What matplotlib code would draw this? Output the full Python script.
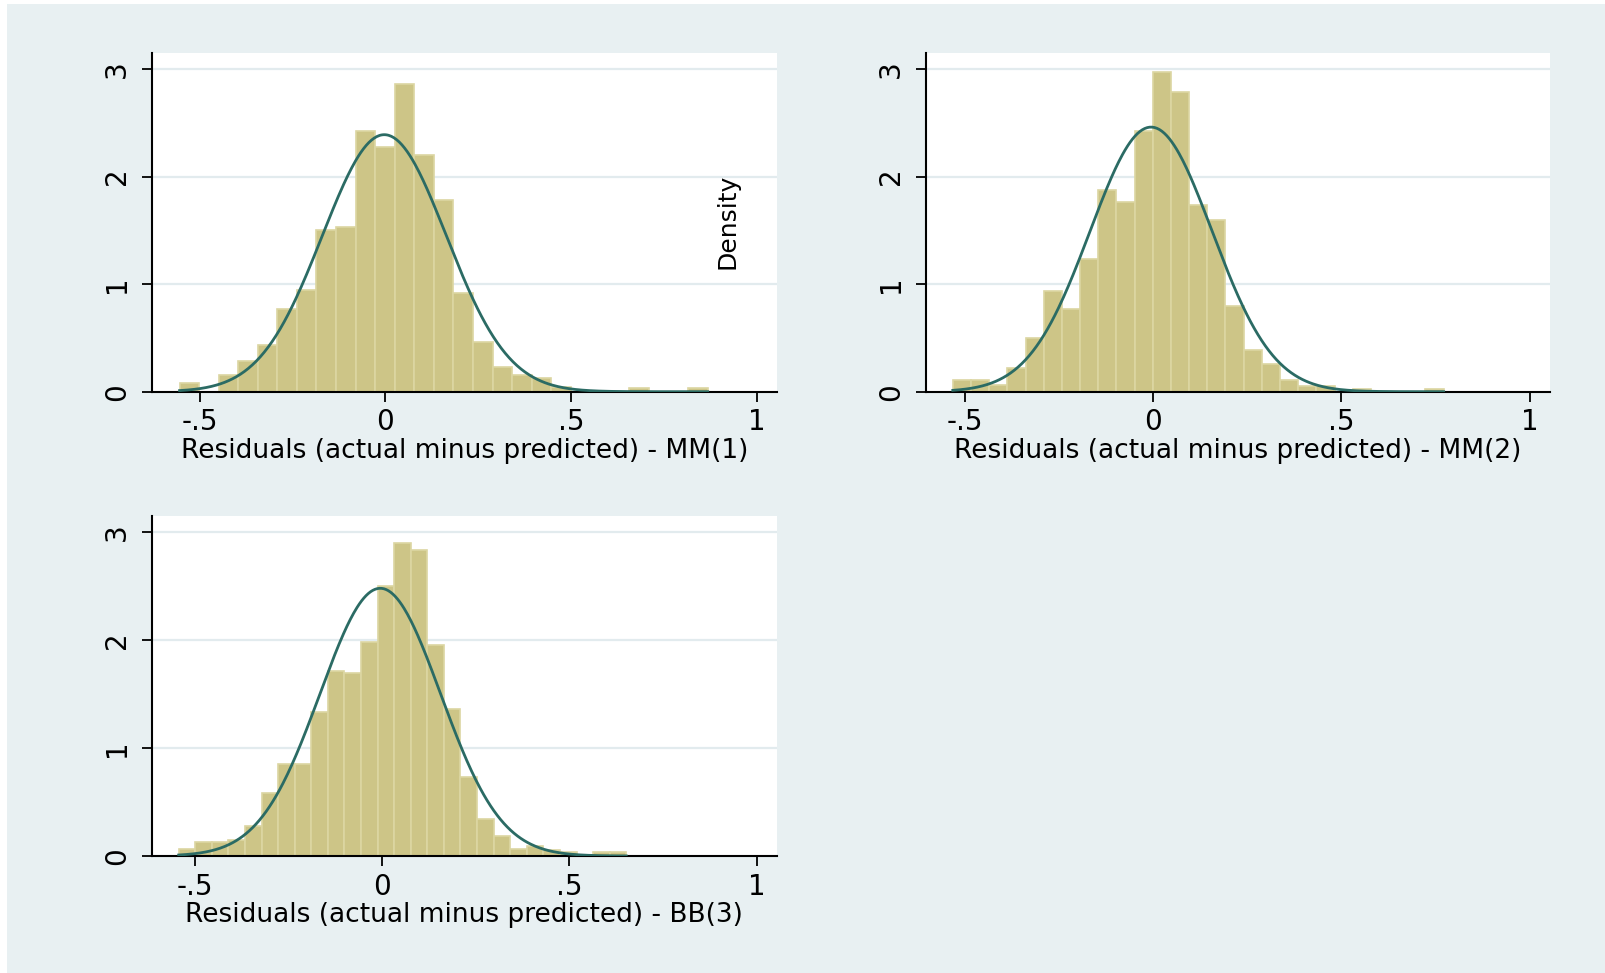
import numpy as np
import matplotlib
matplotlib.use('Agg')
import matplotlib.pyplot as plt
from matplotlib.patches import Rectangle

# --- data (density per bin) ---
# MM(1)
mm1_start = -0.554
mm1_width = 0.05264
mm1_density = [0.084, 0.0, 0.158, 0.285, 0.437, 0.766, 0.946, 1.502, 1.527, 2.426,
               2.271, 2.861, 2.197, 1.781, 0.915, 0.459, 0.233, 0.155, 0.124, 0.047,
               0.0, 0.0, 0.0, 0.03, 0.0, 0.0, 0.03]
mm1_mean, mm1_sd = -0.003, 0.167

# MM(2)
mm2_start = -0.533
mm2_width = 0.04832
mm2_density = [0.109, 0.109, 0.059, 0.223, 0.503, 0.937, 0.773, 1.238, 1.874, 1.762,
               2.426, 2.975, 2.786, 1.734, 1.598, 0.800, 0.388, 0.254, 0.109, 0.056,
               0.056, 0.0, 0.025, 0.0, 0.0, 0.0, 0.025]
mm2_mean, mm2_sd = -0.006, 0.1622

# BB(3)
bb3_start = -0.543
bb3_width = 0.04424
bb3_density = [0.065, 0.127, 0.127, 0.151, 0.275, 0.581, 0.853, 0.853, 1.332, 1.718,
               1.696, 1.986, 2.502, 2.898, 2.836, 1.959, 1.359, 0.735, 0.340, 0.185,
               0.062, 0.093, 0.056, 0.034, 0.0, 0.034, 0.034]
bb3_mean, bb3_sd = -0.005, 0.1608

titles = ['Residuals (actual minus predicted) - MM(1)',
          'Residuals (actual minus predicted) - MM(2)',
          'Residuals (actual minus predicted) - BB(3)']
xtick_vals = [-0.5, 0, 0.5, 1]
xtick_labels = ['-.5', '0', '.5', '1']
ytick_vals = [0, 1, 2, 3]
ytick_labels = ['0', '1', '2', '3']

BG = '#e8f0f2'
GRID = '#e2ebee'
BAR = '#cdc587'
BAR_EDGE = '#dcd6a2'
CURVE = '#2b6b64'

plt.rcParams['font.family'] = ['DejaVu Sans']

W, H = 1605, 973
fig = plt.figure(figsize=(W / 100, H / 100), dpi=100)
fig.patch.set_facecolor('white')
fig.add_artist(Rectangle((6.7 / W, 0), 1, 1 - 4 / H, transform=fig.transFigure,
                         facecolor=BG, edgecolor='none', zorder=-10))


def frac(left, top, right, bottom):
    return [left / W, 1 - bottom / H, (right - left) / W, (bottom - top) / H]


def panel(rect, start, width, dens, mu, sd, title, xlim):
    ax = fig.add_axes(rect)
    ax.set_facecolor('white')
    edges = start + width * np.arange(len(dens))
    ax.bar(edges, dens, width=width, align='edge', color=BAR,
           edgecolor=BAR_EDGE, linewidth=1.2, zorder=2)
    xs = np.linspace(edges[0], edges[-1] + width, 400)
    pdf = np.exp(-0.5 * ((xs - mu) / sd) ** 2) / (sd * np.sqrt(2 * np.pi))
    ax.plot(xs, pdf, color=CURVE, linewidth=2.0, zorder=3)

    ax.set_xlim(*xlim)
    ax.set_ylim(0, 3.151)
    ax.set_xticks(xtick_vals)
    ax.set_xticklabels(xtick_labels)
    ax.set_yticks(ytick_vals)
    ax.set_yticklabels(ytick_labels, rotation=90, va='center')
    for y in ytick_vals[1:]:
        ax.axhline(y, color=GRID, linewidth=1.6, zorder=1)

    for s in ['top', 'right']:
        ax.spines[s].set_visible(False)
    for s in ['left', 'bottom']:
        ax.spines[s].set_linewidth(1.5)
        ax.spines[s].set_color('black')
    ax.tick_params(axis='both', length=7, width=1.3, labelsize=20, direction='out')
    ax.tick_params(axis='x', pad=5)
    ax.tick_params(axis='y', pad=8)
    ax.set_xlabel(title, fontsize=19, labelpad=1)
    return ax


panel(frac(151.7, 52.7, 776.7, 391.7), mm1_start, mm1_width, mm1_density,
      mm1_mean, mm1_sd, titles[0], (-0.629, 1.053))
panel(frac(925.7, 52.7, 1549.5, 391.7), mm2_start, mm2_width, mm2_density,
      mm2_mean, mm2_sd, titles[1], (-0.605, 1.053))
panel(frac(151.7, 516, 776.7, 856), bb3_start, bb3_width, bb3_density,
      bb3_mean, bb3_sd, titles[2], (-0.615, 1.053))

fig.text(727 / W, 1 - 221 / H, 'Density', rotation=90, ha='center', va='center',
         fontsize=18)

plt.savefig('out.png', dpi=100, facecolor=fig.get_facecolor())
